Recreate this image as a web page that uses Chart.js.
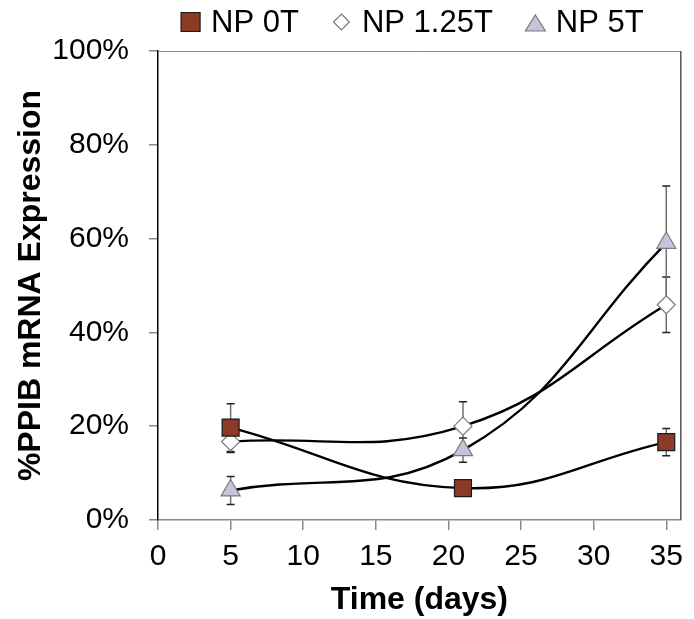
<!DOCTYPE html>
<html>
<head>
<meta charset="utf-8">
<script src="https://cdn.jsdelivr.net/npm/chart.js"></script>
<style>
  html, body { margin: 0; padding: 0; background: #fff; }
  #wrap { width: 694px; height: 619px; }
</style>
</head>
<body>
<div id="wrap"><canvas id="ppibChart"></canvas></div>
<script>
  const days = [5, 21, 35];
  const seriesNames = ['NP 0T', 'NP 1.25T', 'NP 5T'];
  const np0T = [19.7, 6.8, 16.6];
  const np125T = [16.7, 20.0, 45.9];
  const np5T = [6.3, 14.9, 59.1];
  const np0TErr = [5.1, 1.0, 2.9];
  const np125TErr = [2.3, 5.2, 5.9];
  const np5TErr = [3.0, 2.6, 12.1];
  const xTicks = [0, 5, 10, 15, 20, 25, 30, 35];
  const yTicks = [0, 20, 40, 60, 80, 100];

  const FONT = '"Liberation Sans", Arial, sans-serif';

  function pts(ys) {
    return days.map((d, i) => ({ x: d, y: ys[i] }));
  }

  // error bars, drawn under the markers
  const errorBars = {
    id: 'errorBars',
    beforeDatasetsDraw(chart) {
      const ctx = chart.ctx;
      const yS = chart.scales.y;
      chart.data.datasets.forEach((ds, di) => {
        const meta = chart.getDatasetMeta(di);
        meta.data.forEach((pt, i) => {
          const v = ds.data[i].y, e = ds.errors[i];
          const top = yS.getPixelForValue(v + e);
          const bot = yS.getPixelForValue(v - e);
          ctx.save();
          ctx.strokeStyle = '#6e6e6e';
          ctx.lineWidth = 1.5;
          ctx.beginPath();
          ctx.moveTo(pt.x, top); ctx.lineTo(pt.x, bot);
          ctx.stroke();
          ctx.strokeStyle = '#222';
          ctx.beginPath();
          ctx.moveTo(pt.x - 4, top); ctx.lineTo(pt.x + 4, top);
          ctx.moveTo(pt.x - 4, bot); ctx.lineTo(pt.x + 4, bot);
          ctx.stroke();
          ctx.restore();
        });
      });
    }
  };

  // top and right frame of the plot area
  const frame = {
    id: 'frame',
    afterDraw(chart) {
      const { ctx, chartArea: a } = chart;
      ctx.save();
      ctx.lineWidth = 1;
      ctx.strokeStyle = '#8a8a8a';
      ctx.beginPath();
      ctx.moveTo(a.left, a.top + 0.5); ctx.lineTo(a.right, a.top + 0.5);
      ctx.stroke();
      ctx.strokeStyle = '#555';
      ctx.lineWidth = 1.5;
      ctx.beginPath();
      ctx.moveTo(a.right, a.top); ctx.lineTo(a.right, a.bottom);
      ctx.stroke();
      ctx.restore();
    }
  };

  // legend row above the plot
  const legendRow = {
    id: 'legendRow',
    afterDraw(chart) {
      const { ctx, chartArea: a } = chart;
      const box = 19, gap = 11, itemGap = 33, cy = 22;
      ctx.save();
      ctx.font = '31px ' + FONT;
      const widths = chart.data.datasets.map(ds => box + gap + ctx.measureText(ds.label).width);
      const total = widths.reduce((s, w) => s + w, 0) + itemGap * (widths.length - 1);
      let x = (a.left + a.right) / 2 - 7 - total / 2;
      chart.data.datasets.forEach((ds, i) => {
        const cx = x + box / 2;
        ctx.fillStyle = ds.pointBackgroundColor;
        ctx.strokeStyle = ds.pointBorderColor;
        ctx.lineWidth = 1.2;
        ctx.beginPath();
        if (ds.pointStyle === 'rect') {
          ctx.rect(cx - box / 2, cy - box / 2, box, box);
        } else if (ds.pointStyle === 'rectRot') {
          ctx.moveTo(cx, cy - 8); ctx.lineTo(cx + 8, cy);
          ctx.lineTo(cx, cy + 8); ctx.lineTo(cx - 8, cy); ctx.closePath();
        } else {
          ctx.moveTo(cx, cy - 7); ctx.lineTo(cx + 10, cy + 9);
          ctx.lineTo(cx - 10, cy + 9); ctx.closePath();
        }
        ctx.fill(); ctx.stroke();
        ctx.fillStyle = '#000';
        ctx.textBaseline = 'middle';
        ctx.fillText(ds.label, x + box + gap, cy + 1);
        x += widths[i] + itemGap;
      });
      ctx.restore();
    }
  };

  const ctx = document.getElementById('ppibChart').getContext('2d');
  new Chart(ctx, {
    type: 'scatter',
    data: {
      datasets: [
        {
          label: seriesNames[0], data: pts(np0T), errors: np0TErr,
          showLine: true, tension: 0.42, borderColor: '#000', borderWidth: 2.4,
          pointStyle: 'rect', pointRadius: 12, pointHoverRadius: 12,
          pointBackgroundColor: '#8b3a25', pointBorderColor: '#1a1a1a', pointBorderWidth: 1.2
        },
        {
          label: seriesNames[1], data: pts(np125T), errors: np125TErr,
          showLine: true, tension: 0.42, borderColor: '#000', borderWidth: 2.4,
          pointStyle: 'rectRot', pointRadius: 9, pointHoverRadius: 9,
          pointBackgroundColor: '#ffffff', pointBorderColor: '#7a7a7a', pointBorderWidth: 1.2
        },
        {
          label: seriesNames[2], data: pts(np5T), errors: np5TErr,
          showLine: true, tension: 0.42, borderColor: '#000', borderWidth: 2.4,
          pointStyle: 'triangle', pointRadius: 11, pointHoverRadius: 11,
          pointBackgroundColor: '#c9c2dd', pointBorderColor: '#7a7a7a', pointBorderWidth: 1.2
        }
      ]
    },
    options: {
      responsive: true,
      maintainAspectRatio: false,
      animation: false,
      layout: { padding: { top: 51, right: 7, left: 0, bottom: 0 } },
      plugins: {
        legend: { display: false },
        tooltip: { enabled: false }
      },
      scales: {
        x: {
          type: 'linear',
          min: 0,
          max: 36,
          afterBuildTicks: s => { s.ticks = xTicks.map(v => ({ value: v })); },
          afterFit: s => { s.height = 99; },
          border: { color: '#8a8a8a', width: 1.5 },
          grid: { drawOnChartArea: false, drawTicks: true, tickLength: 10, color: '#8a8a8a', lineWidth: 1.5 },
          ticks: { color: '#000', padding: 9, maxRotation: 0, font: { family: FONT, size: 30 } },
          title: {
            display: true, text: 'Time (days)', color: '#000',
            padding: { top: 0, bottom: 0 },
            font: { family: FONT, size: 32, weight: 'bold' }
          }
        },
        y: {
          min: 0,
          max: 100,
          afterBuildTicks: s => { s.ticks = yTicks.map(v => ({ value: v })); },
          afterFit: s => { s.width = 158; },
          border: { color: '#000', width: 1.5 },
          grid: { drawOnChartArea: false, drawTicks: true, tickLength: 9, color: '#8a8a8a', lineWidth: 1.5 },
          ticks: { color: '#000', padding: 20, callback: v => v + '%', font: { family: FONT, size: 30 } },
          title: {
            display: true, text: '%PPIB mRNA Expression', color: '#000',
            padding: { top: 12, bottom: 0 },
            font: { family: FONT, size: 32, weight: 'bold' }
          }
        }
      }
    },
    plugins: [errorBars, frame, legendRow]
  });
</script>
</body>
</html>
